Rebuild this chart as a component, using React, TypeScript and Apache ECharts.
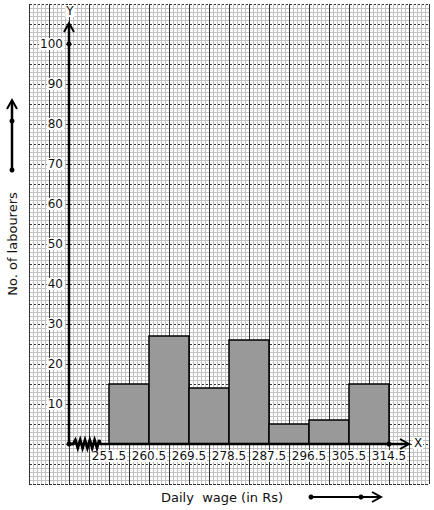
import React, { useEffect, useRef } from "react";
import * as echarts from "echarts";

// Class boundaries (daily wage, Rs) and frequencies (no. of labourers)
const wageBounds = [251.5, 260.5, 269.5, 278.5, 287.5, 296.5, 305.5, 314.5];
const labourers = [15, 27, 14, 26, 5, 6, 15];
const yTickLabels = [10, 20, 30, 40, 50, 60, 70, 80, 90, 100];

// axis ranges
const xMin = 233.5;
const xMax = 323.5;
const xOrigin = 242.5;
const yMin = -10;
const yMax = 110;

const FONT = "DejaVu Sans";
const TEXT = "#111";

export default function App() {
  const ref = useRef<HTMLDivElement>(null);

  useEffect(() => {
    if (!ref.current) return;
    const chart = echarts.init(ref.current, undefined, { renderer: "svg" });

    const major = "#333333";
    const minor = "#c2c2c2";

    const barData = labourers.map((v, i) => [wageBounds[i], wageBounds[i + 1], v]);

    const option: any = {
      animation: false,
      backgroundColor: "#fff",
      grid: { left: 29, top: 4, width: 400, height: 480, containLabel: false },
      xAxis: [
        {
          type: "value",
          gridIndex: 0,
          min: 0,
          max: 400,
          interval: 20,
          axisLine: { show: false },
          axisTick: { show: false },
          axisLabel: { show: false },
          splitLine: { show: true, lineStyle: { color: major, width: 1 } },
          minorTick: { show: false, splitNumber: 5 },
          minorSplitLine: { show: true, lineStyle: { color: minor, width: 1 } },
          z: 0,
        },
        {
          type: "value",
          gridIndex: 0,
          min: xMin,
          max: xMax,
          show: false,
        },
      ],
      yAxis: [
        {
          type: "value",
          gridIndex: 0,
          min: 0,
          max: 480,
          interval: 20,
          axisLine: { show: false },
          axisTick: { show: false },
          axisLabel: { show: false },
          splitLine: {
            show: true,
            lineStyle: { color: major, width: 1, type: [3, 1], dashOffset: 0 },
          },
          minorTick: { show: false, splitNumber: 5 },
          minorSplitLine: { show: true, lineStyle: { color: minor, width: 1 } },
          z: 0,
        },
        {
          type: "value",
          gridIndex: 0,
          min: yMin,
          max: yMax,
          interval: 10,
          position: "left",
          offset: -40,
          axisLine: { show: false },
          axisTick: { show: false },
          splitLine: { show: false },
          axisLabel: {
            show: true,
            margin: 5,
            color: TEXT,
            fontFamily: FONT,
            fontSize: 12,
            backgroundColor: "#fff",
            padding: [0, 1],
            formatter: (v: number) => (yTickLabels.indexOf(v) >= 0 ? String(v) : ""),
          },
          z: 5,
        },
      ],
      series: [
        {
          type: "custom",
          name: "bars",
          xAxisIndex: 1,
          yAxisIndex: 1,
          z: 3,
          data: barData,
          encode: { x: [0, 1], y: 2 },
          renderItem: (params: any, api: any) => {
            const p0 = api.coord([api.value(0), api.value(2)]);
            const p1 = api.coord([api.value(1), 0]);
            return {
              type: "rect",
              shape: { x: p0[0], y: p0[1], width: p1[0] - p0[0], height: p1[1] - p0[1] },
              style: { fill: "#999999", stroke: "#000", lineWidth: 1.5 },
            };
          },
        },
        {
          type: "custom",
          name: "axes",
          xAxisIndex: 1,
          yAxisIndex: 1,
          z: 6,
          data: [[xOrigin, 0]],
          renderItem: (params: any, api: any) => {
            const o = api.coord([xOrigin, 0]);
            const yTop = api.coord([xOrigin, 105.25]);
            const y100 = api.coord([xOrigin, 100]);
            const xEnd = api.coord([319, 0]);
            const xLast = api.coord([wageBounds[wageBounds.length - 1], 0]);
            const zz: number[][] = [[o[0], o[1]], [o[0] + 4, o[1]]];
            let px = o[0] + 4;
            let up = true;
            while (px < o[0] + 30) {
              px += 2.4;
              zz.push([px, o[1] + (up ? -4 : 4)]);
              up = !up;
            }
            zz.push([o[0] + 31, o[1]]);
            const black = { stroke: "#000", lineWidth: 2.8, fill: "none" };
            return {
              type: "group",
              children: [
                { type: "line", shape: { x1: o[0], y1: o[1], x2: yTop[0], y2: yTop[1] + 1 }, style: { stroke: "#000", lineWidth: 2.5 } },
                { type: "polyline", shape: { points: [[yTop[0] - 5, yTop[1] + 9], [yTop[0], yTop[1]], [yTop[0] + 5, yTop[1] + 9]] }, style: { stroke: "#000", lineWidth: 2, fill: "none" } },
                { type: "polyline", shape: { points: zz }, style: black },
                { type: "line", shape: { x1: o[0] + 31, y1: o[1], x2: xEnd[0] - 1, y2: xEnd[1] }, style: { stroke: "#000", lineWidth: 2.5 } },
                { type: "polyline", shape: { points: [[xEnd[0] - 9, xEnd[1] - 5], [xEnd[0], xEnd[1]], [xEnd[0] - 9, xEnd[1] + 5]] }, style: { stroke: "#000", lineWidth: 2, fill: "none" } },
                { type: "circle", shape: { cx: o[0], cy: o[1], r: 2.5 }, style: { fill: "#000" } },
                { type: "circle", shape: { cx: y100[0], cy: y100[1], r: 2.5 }, style: { fill: "#000" } },
                { type: "circle", shape: { cx: xLast[0], cy: xLast[1], r: 2.5 }, style: { fill: "#000" } },
                { type: "text", x: yTop[0] + 1, y: yTop[1] - 12, style: { text: "Y", align: "center", verticalAlign: "middle", fill: TEXT, font: `12px ${FONT}`, backgroundColor: "#fff", padding: [0, 1] } },
                { type: "text", x: xEnd[0] + 9, y: xEnd[1] - 1, style: { text: "X", align: "center", verticalAlign: "middle", fill: TEXT, font: `12px ${FONT}`, backgroundColor: "#fff", padding: [0, 1] } },
              ],
            };
          },
        },
        {
          type: "custom",
          name: "xlabels",
          xAxisIndex: 1,
          yAxisIndex: 1,
          z: 5,
          data: wageBounds.map((v) => [v, 0]),
          renderItem: (params: any, api: any) => {
            const p = api.coord([api.value(0), 0]);
            return {
              type: "text",
              x: p[0],
              y: p[1] + 12,
              style: {
                text: String(wageBounds[params.dataIndex]),
                align: "center",
                verticalAlign: "middle",
                fill: TEXT,
                font: `12px ${FONT}`,
                backgroundColor: "#fff",
                padding: [0, 1],
              },
            };
          },
        },
      ],
      graphic: [
        {
          type: "text",
          x: 12,
          y: 244,
          rotation: Math.PI / 2,
          style: { text: "No. of labourers", align: "center", verticalAlign: "middle", fill: TEXT, font: `13px ${FONT}` },
        },
        {
          type: "text",
          x: 222,
          y: 497,
          style: { text: "Daily  wage (in Rs)", align: "center", verticalAlign: "middle", fill: TEXT, font: `13px ${FONT}` },
        },
        { type: "line", shape: { x1: 12, y1: 170, x2: 12, y2: 101 }, style: { stroke: "#000", lineWidth: 2.5 } },
        { type: "polyline", shape: { points: [[7, 109], [12, 100], [17, 109]] }, style: { stroke: "#000", lineWidth: 2, fill: "none" } },
        { type: "circle", shape: { cx: 12, cy: 121, r: 2.5 }, style: { fill: "#000" } },
        { type: "circle", shape: { cx: 12, cy: 170, r: 2.5 }, style: { fill: "#000" } },
        { type: "line", shape: { x1: 311, y1: 497, x2: 380, y2: 497 }, style: { stroke: "#000", lineWidth: 2 } },
        { type: "polyline", shape: { points: [[372, 492], [381, 497], [372, 502]] }, style: { stroke: "#000", lineWidth: 2, fill: "none" } },
        { type: "circle", shape: { cx: 311, cy: 497, r: 2.5 }, style: { fill: "#000" } },
        { type: "circle", shape: { cx: 361, cy: 497, r: 2.5 }, style: { fill: "#000" } },
      ],
    };

    chart.setOption(option);
    return () => chart.dispose();
  }, []);

  return (
    <div
      ref={ref}
      style={{ position: "fixed", left: 0, top: 0, width: 434, height: 510, background: "#fff" }}
    />
  );
}
